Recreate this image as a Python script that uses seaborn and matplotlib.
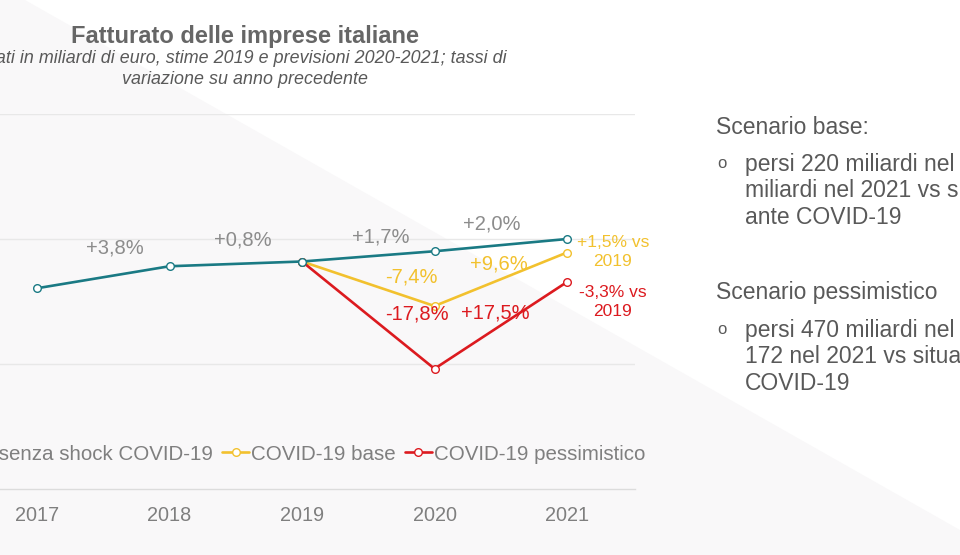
import numpy as np
import pandas as pd
import matplotlib.pyplot as plt
import seaborn as sns
from matplotlib.patches import Polygon

sns.set_theme(style="white")
plt.rcParams['font.family'] = ['Liberation Sans', 'DejaVu Sans']

# data (miliardi di euro)
anni = [2017, 2018, 2019, 2020, 2021]
senza_shock = [2303, 2391, 2410, 2451, 2500]
covid_base = [np.nan, np.nan, 2410, 2232, 2446]
covid_pess = [np.nan, np.nan, 2410, 1981, 2328]

var_grigio = ['+3,8%', '+0,8%', '+1,7%', '+2,0%']
var_base = ['-7,4%', '+9,6%']
var_pess = ['-17,8%', '+17,5%']
nota_base = '+1,5% vs\n2019'
nota_pess = '-3,3% vs\n2019'

nomi = ['Scenario senza shock COVID-19', 'COVID-19 base', 'COVID-19 pessimistico']
colori = ['#1a7a84', '#f2c12e', '#dc1a1f']

df = pd.DataFrame({'anno': anni, nomi[0]: senza_shock, nomi[1]: covid_base, nomi[2]: covid_pess})

W, H = 960, 555
fig = plt.figure(figsize=(9.6, 5.55), dpi=100)
fig.patch.set_facecolor('white')

# light diagonal background
bg = Polygon([[0, 1], [25 / W, 1], [1, 1 - 530 / H], [1, 0], [0, 0]], closed=True,
             transform=fig.transFigure, facecolor='#f9f8f9', edgecolor='none', zorder=-1)
fig.patches.append(bg)

# axes placed so that 2017 -> px 37, 2021 -> px 567, partly cropped on the left
step = 132.5
x_left = 37 - 0.51 * step
x_right = 567 + 0.51 * step
ax = fig.add_axes([x_left / W, 1 - 489 / H, (x_right - x_left) / W, (489 - 114) / H])
ax.set_facecolor('none')
ax.set_zorder(2)

for nome, col in zip(nomi, colori):
    sns.lineplot(data=df, x='anno', y=nome, ax=ax, color=col, lw=1.9, marker='o',
                 markersize=5.5, markerfacecolor='white', markeredgecolor=col,
                 markeredgewidth=1.0, label=nome, zorder=3 if nome != nomi[0] else 4)

ax.set_xlim(2017 - 0.51, 2021 + 0.51)
ax.set_ylim(1500, 3000)
for v in [2000, 2500, 3000]:
    ax.axhline(v, color='#e8e8e8', lw=1.0, zorder=1)
for s in ['top', 'right', 'left']:
    ax.spines[s].set_visible(False)
ax.spines['bottom'].set_color('#dcdcdc')
ax.spines['bottom'].set_linewidth(1.0)
ax.set_yticks([])
ax.set_xticks(anni)
ax.set_xticklabels([str(a) for a in anni])
ax.tick_params(axis='x', length=0, pad=12, labelsize=14.3, labelcolor='#7f7f7f')
ax.set_xlabel('')
ax.set_ylabel('')

# variation labels
pos_grigio = [(2017.585, 2464), (2018.555, 2496), (2019.596, 2508), (2020.43, 2560)]
for t, (x, y) in zip(var_grigio, pos_grigio):
    ax.text(x, y, t, color='#8c8c8c', fontsize=14.5, ha='center', va='center')
pos_base = [(2019.826, 2348), (2020.483, 2400)]
for t, (x, y) in zip(var_base, pos_base):
    ax.text(x, y, t, color=colori[1], fontsize=14.5, ha='center', va='center')
pos_pess = [(2019.864, 2200), (2020.46, 2204)]
for t, (x, y) in zip(var_pess, pos_pess):
    ax.text(x, y, t, color=colori[2], fontsize=14.5, ha='center', va='center')
ax.text(2021.347, 2448, nota_base, color=colori[1], fontsize=12.5, ha='center', va='center',
        linespacing=1.4)
ax.text(2021.347, 2248, nota_pess, color=colori[2], fontsize=12.5, ha='center', va='center',
        linespacing=1.4)

# legend
ax.legend(loc='center right', bbox_to_anchor=(645 / W, 1 - 454 / H),
          bbox_transform=fig.transFigure, ncol=3, frameon=False, fontsize=14.8,
          handlelength=1.3, handletextpad=0.1, columnspacing=0.45,
          borderpad=0, borderaxespad=0, labelcolor='#7f7f7f')

# title
fig.text(245 / W, 1 - 37 / H, 'Fatturato delle imprese italiane', fontsize=17,
         fontweight='bold', color='#666666', ha='center', va='center')
fig.text(245 / W, 1 - 69 / H,
         'Dati in miliardi di euro, stime 2019 e previsioni 2020-2021; tassi di\nvariazione su anno precedente',
         fontsize=12.9, style='italic', color='#595959', ha='center', va='center',
         linespacing=1.25)

# right-hand notes
txt = '#595959'
fig.text(716 / W, 1 - 127 / H, 'Scenario base:', fontsize=16.5, color=txt, va='center')
fig.text(716 / W, 1 - 293 / H, 'Scenario pessimistico', fontsize=16.5, color=txt, va='center')
righe_base = ['persi 220 miliardi nel 2020 e 54', 'miliardi nel 2021 vs situazione', 'ante COVID-19']
righe_pess = ['persi 470 miliardi nel 2020 e', '172 nel 2021 vs situazione ante', 'COVID-19']
for y0, righe in [(164, righe_base), (330, righe_pess)]:
    fig.text(722 / W, 1 - y0 / H, 'o', fontsize=12, color=txt, ha='center', va='center')
    for i, r in enumerate(righe):
        fig.text(745 / W, 1 - (y0 + i * 26.5) / H, r, fontsize=16.5, color=txt, va='center')

fig.savefig('out.png', dpi=100)
